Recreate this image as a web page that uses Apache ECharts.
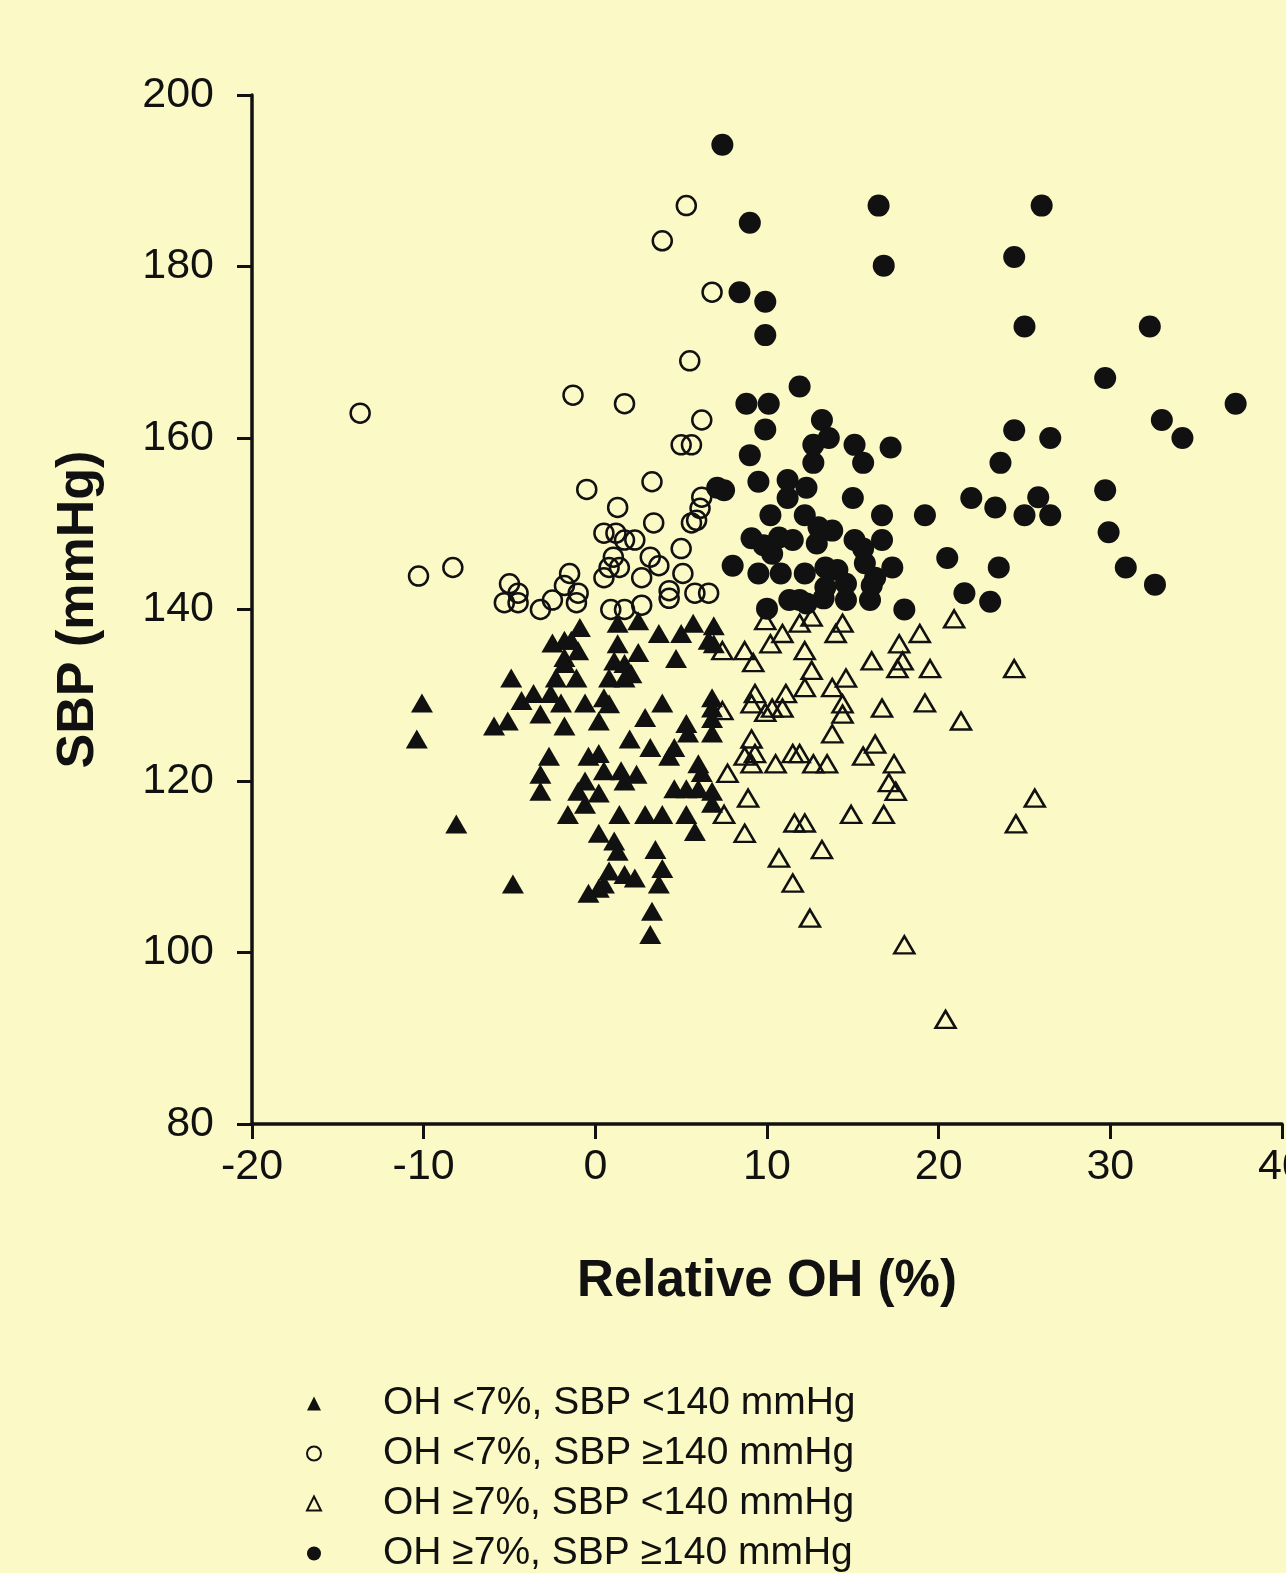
<!DOCTYPE html>
<html>
<head>
<meta charset="utf-8">
<script src="https://cdn.jsdelivr.net/npm/echarts@6/dist/echarts.min.js"></script>
<style>
  html, body { margin: 0; padding: 0; background: #FBFAC7; }
  #chart { width: 1286px; height: 1573px; }
</style>
</head>
<body>
<div id="chart"></div>
<script>
// [relative OH %, SBP mmHg]
var ohLowSbpLow = [
  [-0.9,137.9],[-2.5,136.1],[-1.8,136.4],[-1.4,136.4],[-1.8,134.4],[-1.0,135.2],[-1.8,133.7],[-1.1,132.0],
  [-2.3,132.0],[-4.9,132.0],[1.3,138.4],[1.3,136.0],[1.1,134.0],[1.7,133.7],[0.8,132.0],[1.7,132.0],
  [-10.1,129.1],[-4.3,129.4],[-3.6,130.2],[-2.6,130.2],[-2.0,129.1],[-0.6,129.1],[0.5,129.7],[0.8,129.0],
  [-3.2,127.8],[0.2,127.0],[-5.1,127.0],[-5.9,126.4],[-1.8,126.4],
  [-10.4,124.9],[2.0,124.9],[-2.7,122.9],[-0.4,122.9],[0.2,123.2],[-3.2,120.8],[-3.2,118.8],[-0.6,120.0],
  [-1.0,118.8],[0.2,118.6],[0.5,121.2],[1.5,121.2],[1.7,120.0],[-1.6,116.1],[-0.6,117.3],[1.4,116.1],
  [-8.1,115.0],[0.2,113.9],[1.1,113.0],[1.3,111.8],[1.7,109.1],[0.8,109.5],[0.5,108.0],[-0.4,106.9],
  [-4.8,108.0],[0.2,107.5],
  [3.2,123.9],[4.6,123.9],[4.3,122.9],[5.4,125.6],[6.8,125.6],[6.0,122.0],[6.2,121.0],[2.4,120.8],
  [4.6,119.1],[5.3,119.1],[6.0,119.1],[6.8,118.8],[6.8,117.4],[2.9,116.1],[3.9,116.1],[5.3,116.1],
  [5.8,114.1],[3.5,112.0],[3.9,109.8],[3.7,108.0],[3.3,104.8],[3.2,102.1],[2.3,108.7],
  [2.5,138.7],[3.7,137.2],[5.0,137.2],[5.7,138.4],[6.9,138.1],[6.6,136.4],[6.9,136.0],[2.5,135.0],
  [4.7,134.3],[2.1,132.5],[6.8,129.7],[3.9,129.1],[6.8,128.5],[2.9,127.4],[5.3,126.7],[6.8,127.3]
];

var ohLowSbpHigh = [
  [-13.7,162.9],[-1.3,165.0],[1.7,164.0],[5.3,187.1],[3.9,183.0],[6.8,177.0],[5.5,169.0],[6.2,162.1],
  [-0.5,154.0],[1.3,151.9],[0.5,148.9],[1.2,148.9],[1.7,148.1],[1.05,146.1],[0.8,144.9],[1.4,144.9],
  [0.5,143.7],[-10.3,143.9],[-8.3,144.9],[-5.0,143.0],[-4.5,141.9],[-5.3,140.8],[-4.5,140.8],[-3.2,140.0],
  [-2.5,141.1],[-1.8,142.8],[-1.5,144.2],[-1.0,141.9],[-1.1,140.8],[0.9,140.0],[1.7,140.0],
  [5.0,159.2],[5.6,159.2],[3.3,154.9],[6.2,153.1],[6.1,151.8],[5.9,150.4],[5.6,150.1],[3.4,150.1],
  [2.3,148.1],[5.0,147.1],[3.2,146.1],[3.7,145.1],[2.7,143.7],[5.1,144.2],[4.3,142.2],[5.8,141.9],
  [6.6,141.9],[2.7,140.5],[4.3,141.3]
];

var ohHighSbpLow = [
  [9.9,138.7],[11.9,138.4],[12.6,139.1],[10.9,137.2],[10.2,136.0],[14.4,138.4],[14.0,137.2],[7.4,135.2],
  [8.7,135.2],[9.2,133.8],[12.2,135.2],[12.6,132.9],[16.1,134.0],[17.7,136.0],[18.9,137.2],[17.9,134.0],
  [17.6,133.1],[19.5,133.1],[12.2,130.9],[13.8,130.9],[14.6,132.0],[9.3,130.2],[11.1,130.2],[9.1,129.0],
  [10.3,128.5],[10.9,128.5],[9.9,128.0],[14.4,129.0],[14.4,127.8],[16.7,128.5],[19.2,129.1],[7.4,128.2],
  [20.9,138.9],[24.4,133.1],[21.3,127.0],
  [9.1,124.9],[16.3,124.3],[8.7,122.9],[9.3,123.2],[9.1,122.0],[10.5,122.0],[11.5,123.2],[11.9,123.2],
  [12.7,122.0],[13.5,122.0],[15.6,122.9],[17.4,122.0],[17.1,119.8],[17.5,118.8],[7.7,120.9],[8.9,118.0],
  [7.5,116.1],[8.7,113.9],[11.6,115.1],[12.2,115.1],[14.9,116.1],[16.8,116.1],[13.2,112.0],[10.7,111.0],
  [11.5,108.1],[12.5,104.0],[18.0,100.9],[25.6,118.0],[24.5,115.0],[20.4,92.2],[13.8,125.5]
];

var ohHighSbpHigh = [
  [7.4,194.2],[16.5,187.1],[9.0,185.1],[26.0,187.1],[16.8,180.1],[24.4,181.1],[8.4,177.0],[9.9,175.9],
  [9.9,172.0],[25.0,173.0],[32.3,173.0],[11.9,166.0],[29.7,167.0],[8.8,164.0],[10.1,164.0],[37.3,164.0],
  [13.2,162.1],[33.0,162.1],[9.9,161.0],[24.4,160.9],[26.5,160.0],[34.2,160.0],[13.6,160.0],[12.7,159.2],
  [15.1,159.2],[17.2,158.9],[9.0,158.0],[12.7,157.1],[15.6,157.1],[23.6,157.1],[9.5,154.9],[11.2,155.1],
  [12.3,154.2],[7.1,154.2],[7.5,153.9],[29.7,153.9],[11.2,153.0],[15.0,153.0],[21.9,153.0],[25.8,153.1],
  [23.3,151.9],[16.7,151.0],[19.2,151.0],[10.2,151.0],[12.2,151.0],[25.0,151.0],[26.5,151.0],[13.0,149.6],
  [13.8,149.2],[29.9,149.0],[9.1,148.3],[10.7,148.4],[11.5,148.1],[15.1,148.1],[15.6,147.1],[16.7,148.1],
  [9.8,147.5],[10.3,146.5],[12.9,147.7],[20.5,146.0],[8.0,145.1],[9.5,144.2],[10.8,144.2],[12.2,144.2],
  [13.4,144.9],[14.1,144.6],[15.7,145.4],[17.3,144.9],[16.3,143.7],[23.5,144.9],[30.9,144.9],[13.4,142.6],
  [14.6,143.0],[16.1,142.8],[32.6,142.9],[21.5,141.9],[11.3,141.1],[11.9,141.1],[12.3,140.7],[10.0,140.1],
  [14.6,141.1],[16.0,141.1],[18.0,140.0],[13.3,141.3],[23.0,140.9]
];

var groupNames = [
  'OH <7%, SBP <140 mmHg',
  'OH <7%, SBP \u2265140 mmHg',
  'OH \u22657%, SBP <140 mmHg',
  'OH \u22657%, SBP \u2265140 mmHg'
];

var font = '"Liberation Sans", Arial, sans-serif';
var ink = '#111111';

var dom = document.getElementById('chart');
var myChart = echarts.init(dom);
var option = {
  backgroundColor: '#FBFAC7',
  animation: false,
  textStyle: { fontFamily: font, color: ink },
  grid: { left: 252, right: 4, top: 95, bottom: 449, outerBoundsMode: 'none', containLabel: false },
  legend: {
    orient: 'vertical',
    left: 306,
    top: 1384,
    height: 189,
    padding: 0,
    itemWidth: 14,
    itemHeight: 14,
    itemGap: 11,
    selectedMode: false,
    formatter: function (name) { return '{gap|}' + name; },
    textStyle: {
      fontSize: 39, color: ink, fontFamily: font,
      rich: { gap: { width: 57 } }
    },
    data: groupNames
  },
  xAxis: {
    type: 'value',
    min: -20, max: 40, interval: 10,
    name: 'Relative OH (%)',
    nameLocation: 'middle',
    nameGap: 132,
    nameTextStyle: { fontSize: 51, fontWeight: 'bold', color: ink, fontFamily: font },
    axisLine: { onZero: false, lineStyle: { color: ink, width: 3.5 } },
    axisTick: { length: 15, lineStyle: { color: ink, width: 3 } },
    axisLabel: { fontSize: 43, color: ink, margin: 22, fontFamily: font, showMaxLabel: true },
    splitLine: { show: false }
  },
  yAxis: {
    type: 'value',
    min: 80, max: 200, interval: 20,
    name: 'SBP (mmHg)',
    nameLocation: 'middle',
    nameGap: 147,
    nameTextStyle: { fontSize: 52, fontWeight: 'bold', color: ink, fontFamily: font },
    axisLine: { onZero: false, lineStyle: { color: ink, width: 3.5 } },
    axisTick: { length: 15, lineStyle: { color: ink, width: 3 } },
    axisLabel: { fontSize: 43, color: ink, margin: 38, fontFamily: font },
    splitLine: { show: false }
  },
  series: [
    {
      name: groupNames[0], type: 'scatter', symbol: 'triangle', symbolSize: [22, 19],
      itemStyle: { color: ink, opacity: 1 },
      data: ohLowSbpLow
    },
    {
      name: groupNames[1], type: 'scatter', symbol: 'circle', symbolSize: 19,
      itemStyle: { color: 'rgba(0,0,0,0)', borderColor: ink, borderWidth: 2.5, opacity: 1 },
      data: ohLowSbpHigh
    },
    {
      name: groupNames[2], type: 'scatter', symbol: 'triangle', symbolSize: [20, 17],
      itemStyle: { color: 'rgba(0,0,0,0)', borderColor: ink, borderWidth: 2.5, opacity: 1 },
      data: ohHighSbpLow
    },
    {
      name: groupNames[3], type: 'scatter', symbol: 'circle', symbolSize: 22,
      itemStyle: { color: ink, opacity: 1 },
      data: ohHighSbpHigh
    }
  ]
};
if (option && typeof option === 'object') {
  myChart.setOption(option, true);
}
</script>
</body>
</html>
